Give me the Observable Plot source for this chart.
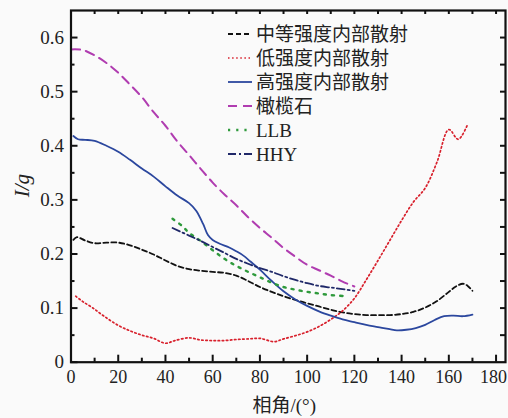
<!DOCTYPE html>
<html>
<head>
<meta charset="utf-8">
<script src="https://cdn.jsdelivr.net/npm/d3@7"></script>
<script src="https://cdn.jsdelivr.net/npm/@observablehq/plot@0.6"></script>
<style>
  html, body { margin: 0; padding: 0; background: #fafafa; }
  #chart svg { display: block; background: #fafafa; }
</style>
</head>
<body>
<div id="chart"></div>
<script>
// ---- data ----
const seriesNames = ["中等强度内部散射", "低强度内部散射", "高强度内部散射", "橄榄石", "LLB", "HHY"];

const mediumX = [1, 2.5, 6, 10, 15, 20, 25, 30, 35, 40, 45, 50, 55, 60, 65, 70, 75, 80, 85, 90, 95, 100, 105, 110, 115, 120, 125, 130, 135, 140, 145, 150, 155, 160, 163, 166, 168, 170];
const mediumY = [0.226, 0.231, 0.225, 0.220, 0.221, 0.221, 0.216, 0.208, 0.199, 0.188, 0.178, 0.172, 0.169, 0.167, 0.165, 0.160, 0.150, 0.139, 0.130, 0.122, 0.115, 0.109, 0.103, 0.097, 0.092, 0.089, 0.087, 0.087, 0.087, 0.089, 0.093, 0.101, 0.113, 0.130, 0.140, 0.145, 0.141, 0.132];

const lowX = [2, 5, 9, 14, 20, 25, 30, 35, 40, 44, 50, 55, 60, 65, 70, 75, 80, 86, 90, 95, 100, 105, 110, 115, 120, 125, 130, 135, 140, 145, 150, 155, 160, 164, 168];
const lowY = [0.122, 0.112, 0.101, 0.085, 0.068, 0.058, 0.050, 0.044, 0.035, 0.040, 0.045, 0.041, 0.040, 0.040, 0.042, 0.043, 0.044, 0.038, 0.043, 0.049, 0.056, 0.066, 0.079, 0.095, 0.118, 0.152, 0.188, 0.225, 0.262, 0.296, 0.322, 0.370, 0.430, 0.412, 0.440];

const highX = [1, 3, 6, 10, 15, 20, 25, 30, 35, 40, 45, 50, 53, 56, 58, 60, 63, 67, 70, 73, 76, 80, 85, 90, 95, 100, 105, 110, 115, 120, 125, 130, 135, 138, 142, 146, 150, 154, 158, 162, 166, 170];
const highY = [0.418, 0.412, 0.411, 0.409, 0.400, 0.389, 0.374, 0.358, 0.343, 0.325, 0.308, 0.294, 0.280, 0.255, 0.235, 0.226, 0.219, 0.212, 0.205, 0.197, 0.186, 0.171, 0.150, 0.131, 0.116, 0.104, 0.094, 0.086, 0.079, 0.074, 0.069, 0.065, 0.061, 0.059, 0.060, 0.063, 0.069, 0.078, 0.085, 0.086, 0.085, 0.088];

const olivineX = [0, 5, 10, 15, 20, 25, 30, 35, 40, 45, 50, 55, 60, 65, 70, 75, 80, 85, 90, 95, 100, 105, 110, 115, 120];
const olivineY = [0.578, 0.577, 0.567, 0.553, 0.535, 0.513, 0.490, 0.462, 0.437, 0.408, 0.383, 0.357, 0.332, 0.310, 0.290, 0.268, 0.248, 0.230, 0.211, 0.195, 0.180, 0.170, 0.160, 0.149, 0.140];

const llbX = [43, 47, 50, 55, 60, 65, 70, 75, 80, 85, 90, 95, 100, 105, 110, 117];
const llbY = [0.265, 0.252, 0.239, 0.224, 0.207, 0.191, 0.178, 0.167, 0.157, 0.147, 0.139, 0.134, 0.130, 0.127, 0.124, 0.122];

const hhyX = [43, 50, 55, 60, 65, 70, 75, 80, 85, 90, 95, 100, 105, 110, 115, 120];
const hhyY = [0.248, 0.234, 0.224, 0.213, 0.202, 0.191, 0.182, 0.174, 0.167, 0.159, 0.152, 0.146, 0.141, 0.138, 0.135, 0.132];

const xMajorTicks = [0, 20, 40, 60, 80, 100, 120, 140, 160, 180];
const xMinorTicks = [10, 30, 50, 70, 90, 110, 130, 150, 170];
const xTopTicks = [10, 20, 30, 40, 50, 60, 70, 80, 90, 100, 110, 120, 130, 140, 150, 160, 170, 180];
const yMajorTicks = [0, 0.1, 0.2, 0.3, 0.4, 0.5, 0.6];
const yMinorTicks = [0.05, 0.15, 0.25, 0.35, 0.45, 0.55];
const yRightTicks = [0.05, 0.1, 0.15, 0.2, 0.25, 0.3, 0.35, 0.4, 0.45, 0.5, 0.55, 0.6];
const xTitle = "相角/(°)";
const yTitle = "I/g";

// ---- styles ----
const styles = [
  {stroke: "#111111", dash: "5,3", width: 1.8},
  {stroke: "#d8202c", dash: "1.5,2.6", width: 1.7},
  {stroke: "#2b479e", dash: null, width: 1.8},
  {stroke: "#b03cb0", dash: "9,6", width: 2},
  {stroke: "#2f9a3c", dash: "2.2,6", width: 2.4},
  {stroke: "#1f2868", dash: "8,3,2,3", width: 1.8}
];

const xs = [mediumX, lowX, highX, olivineX, llbX, hhyX];
const ys = [mediumY, lowY, highY, olivineY, llbY, hhyY];
const tables = xs.map((xArr, i) => xArr.map((x, j) => ({x, y: ys[i][j], series: seriesNames[i]})));

const W = 508, H = 418;
const mL = 70.5, mR = 3, mT = 10, mB = 56.3;
const plotW = W - mL - mR, plotH = H - mT - mB;
const serif = "'Liberation Serif', 'Times New Roman', 'Noto Sans CJK SC', serif";

const lineMarks = tables.map((t, i) => Plot.line(t, {
  x: "x", y: "y",
  stroke: styles[i].stroke,
  strokeWidth: styles[i].width,
  strokeDasharray: styles[i].dash,
  curve: "catmull-rom"
}));

const lastX = xMajorTicks[xMajorTicks.length - 1];

const chart = Plot.plot({
  width: W,
  height: H,
  marginLeft: mL,
  marginRight: mR,
  marginTop: mT,
  marginBottom: mB,
  style: {background: "#fafafa", fontFamily: serif},
  x: {domain: [0, 184], label: null},
  y: {domain: [0, 0.65], label: null},
  marks: [
    // tick labels
    Plot.axisX(xMajorTicks.slice(0, -1), {tickSize: 0, tickPadding: 8, fontSize: 18, fill: "#222", fontFamily: serif, tickFormat: d => String(d)}),
    Plot.axisX([lastX], {tickSize: 0, tickPadding: 8, dx: -2.5, fontSize: 18, fill: "#222", fontFamily: serif, tickFormat: d => String(d)}),
    Plot.axisY(yMajorTicks, {tickSize: 0, tickPadding: 7, fontSize: 19, fill: "#222", fontFamily: serif, tickFormat: d => d === 0 ? "0" : d.toFixed(1)}),
    // inward ticks
    Plot.tickX(xMajorTicks, {x: d => d, insetTop: plotH - 7, stroke: "#111", strokeWidth: 2}),
    Plot.tickX(xMinorTicks, {x: d => d, insetTop: plotH - 4, stroke: "#111", strokeWidth: 2}),
    Plot.tickX(xTopTicks, {x: d => d, insetBottom: plotH - 4, stroke: "#111", strokeWidth: 2}),
    Plot.tickY(yMajorTicks, {y: d => d, insetRight: plotW - 7, stroke: "#111", strokeWidth: 2}),
    Plot.tickY(yMinorTicks, {y: d => d, insetRight: plotW - 4, stroke: "#111", strokeWidth: 2}),
    Plot.tickY(yRightTicks, {y: d => d, insetLeft: plotW - 5, stroke: "#111", strokeWidth: 2}),
    ...lineMarks,
    Plot.frame({stroke: "#111", strokeWidth: 2.2}),
    // axis titles
    Plot.text([xTitle], {frameAnchor: "bottom", dx: -4, dy: 44, text: d => d, fontSize: 19, fill: "#222", fontFamily: serif, lineAnchor: "middle"}),
    Plot.text([yTitle], {frameAnchor: "left", dx: -49, dy: 11, text: d => d, rotate: -90, fontSize: 21, fontStyle: "italic", fill: "#222", fontFamily: serif, lineAnchor: "middle"})
  ]
});

document.getElementById("chart").appendChild(chart);

// ---- legend (inside the plot, upper right) ----
const svg = d3.select(chart);
const lg = svg.append("g").attr("class", "legend").attr("text-anchor", "start");
const lx0 = 228, lx1 = 252, tx = 256, ly0 = 34, lstep = 24;
seriesNames.forEach((name, i) => {
  const yy = ly0 + i * lstep;
  lg.append("line")
    .attr("x1", lx0).attr("x2", lx1).attr("y1", yy).attr("y2", yy)
    .attr("stroke", styles[i].stroke)
    .attr("stroke-width", styles[i].width)
    .attr("stroke-dasharray", styles[i].dash);
  lg.append("text")
    .attr("x", tx).attr("y", yy)
    .attr("dy", "0.35em")
    .attr("text-anchor", "start")
    .attr("font-size", 19)
    .attr("font-family", serif)
    .attr("fill", "#222")
    .text(name);
});
</script>
</body>
</html>
